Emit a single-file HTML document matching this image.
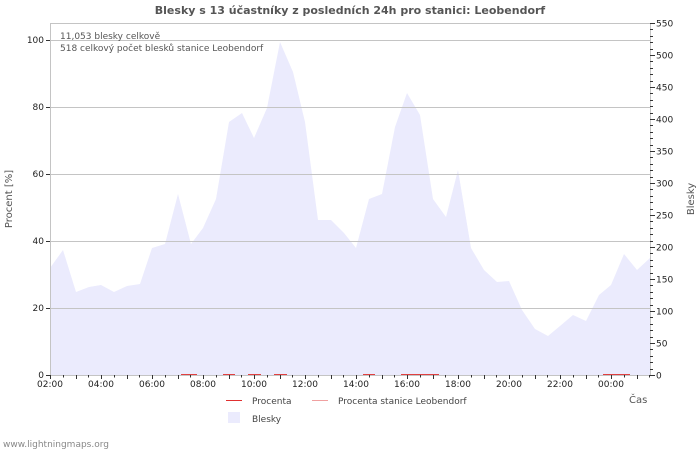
<!DOCTYPE html>
<html><head><meta charset="utf-8"><style>
html,body{margin:0;padding:0;background:#fff;}
svg{display:block;font-family:"DejaVu Sans","Liberation Sans",sans-serif;}
</style></head><body>
<svg width="700" height="450" viewBox="0 0 700 450">
<rect width="700" height="450" fill="#fff"/>
<text x="350" y="14" text-anchor="middle" font-size="11" font-weight="bold" fill="#555">Blesky s 13 účastníky z posledních 24h pro stanici: Leobendorf</text>
<polygon fill="#ebebfd" points="50,375 50,268 63,250 76,292 89,287 101,285 114,292 127,286 140,284 152,248 165,244 178,194 191,244 203,228 216,199 229,122 242,113 254,138 267,108 280,42 293,72 305,122 318,220 331,220 344,233 356,248 369,199 382,194 395,127 407,93 420,115 433,199 446,217 458,170 471,248 484,270 497,282 509,281 522,310 535,329 548,336 560,326 573,315 586,321 599,295 611,285 624,254 637,270 650,258 650,375"/>
<g stroke="#c4c4c4" stroke-width="1">
<line x1="50" y1="40.5" x2="650" y2="40.5"/>
<line x1="50" y1="107.5" x2="650" y2="107.5"/>
<line x1="50" y1="174.5" x2="650" y2="174.5"/>
<line x1="50" y1="241.5" x2="650" y2="241.5"/>
<line x1="50" y1="308.5" x2="650" y2="308.5"/>
<line x1="50" y1="23.5" x2="650" y2="23.5"/>
<line x1="50.5" y1="23" x2="50.5" y2="375"/>
<line x1="650.5" y1="23" x2="650.5" y2="375"/>
<line x1="50" y1="375.5" x2="650" y2="375.5"/>
</g>
<g stroke="#333" stroke-width="1" id="yt">
<line x1="46" y1="40.5" x2="50" y2="40.5"/><line x1="46" y1="107.5" x2="50" y2="107.5"/><line x1="46" y1="174.5" x2="50" y2="174.5"/><line x1="46" y1="241.5" x2="50" y2="241.5"/><line x1="46" y1="308.5" x2="50" y2="308.5"/><line x1="46" y1="375.5" x2="50" y2="375.5"/>
</g>
<g stroke="#e04040" stroke-width="1">
<line x1="181" y1="374.5" x2="197" y2="374.5"/><line x1="223" y1="374.5" x2="235" y2="374.5"/><line x1="248" y1="374.5" x2="261" y2="374.5"/><line x1="274" y1="374.5" x2="287" y2="374.5"/><line x1="363" y1="374.5" x2="375" y2="374.5"/><line x1="401" y1="374.5" x2="439" y2="374.5"/><line x1="603" y1="374.5" x2="630" y2="374.5"/>
</g>
<g font-size="9" fill="#222" text-anchor="end">
<text x="44" y="43">100</text><text x="44" y="110">80</text><text x="44" y="177">60</text><text x="44" y="244">40</text><text x="44" y="311">20</text><text x="44" y="378">0</text>
</g>
<g id="xt" stroke="#333"></g>
<g id="rt" stroke="#333"></g>
<g font-size="9" fill="#222" id="rl"></g>
<g font-size="9" fill="#222" text-anchor="middle">
<text x="50" y="387">02:00</text><text x="101" y="387">04:00</text><text x="152" y="387">06:00</text><text x="203" y="387">08:00</text><text x="254" y="387">10:00</text><text x="305" y="387">12:00</text><text x="356" y="387">14:00</text><text x="407" y="387">16:00</text><text x="458" y="387">18:00</text><text x="509" y="387">20:00</text><text x="560" y="387">22:00</text><text x="611" y="387">00:00</text>
</g>
<text x="629" y="403" font-size="10" fill="#555">Čas</text>
<text transform="translate(12,199) rotate(-90)" text-anchor="middle" font-size="10" fill="#555">Procent   [%]</text>
<text transform="translate(694,199) rotate(-90)" text-anchor="middle" font-size="10" fill="#555">Blesky</text>
<text x="60" y="39" font-size="9" fill="#555">11,053 blesky celkově</text>
<text x="60" y="51" font-size="9" fill="#555">518 celkový počet blesků stanice Leobendorf</text>
<line x1="226" y1="400.5" x2="242" y2="400.5" stroke="#e03030" stroke-width="1"/>
<text x="252" y="404" font-size="9" fill="#444">Procenta</text>
<line x1="312" y1="400.5" x2="328" y2="400.5" stroke="#f0a0a0" stroke-width="1"/>
<text x="338" y="404" font-size="9" fill="#444">Procenta stanice Leobendorf</text>
<rect x="228" y="412" width="12" height="11" fill="#ebebfd"/>
<text x="252" y="422" font-size="9" fill="#444">Blesky</text>
<text x="3" y="447" font-size="9" fill="#888">www.lightningmaps.org</text>
</svg>
<script>
var ns="http://www.w3.org/2000/svg";
function L(g,x1,y1,x2,y2){var l=document.createElementNS(ns,"line");l.setAttribute("x1",x1);l.setAttribute("y1",y1);l.setAttribute("x2",x2);l.setAttribute("y2",y2);document.getElementById(g).appendChild(l);}
for(var i=0;i<=47;i++){var x=Math.round(50+i*12.75)+0.5;L("xt",x,375,x,i%2==0?379:377.5);}
for(var v=0;v<=550;v+=10){var y=Math.round(375-v*0.64)+0.5;L("rt",650,y,v%50==0?655:653,y);
if(v%50==0){var t=document.createElementNS(ns,"text");t.setAttribute("x",656);t.setAttribute("y",y+3);t.textContent=v;document.getElementById("rl").appendChild(t);}}
</script>
</body></html>
